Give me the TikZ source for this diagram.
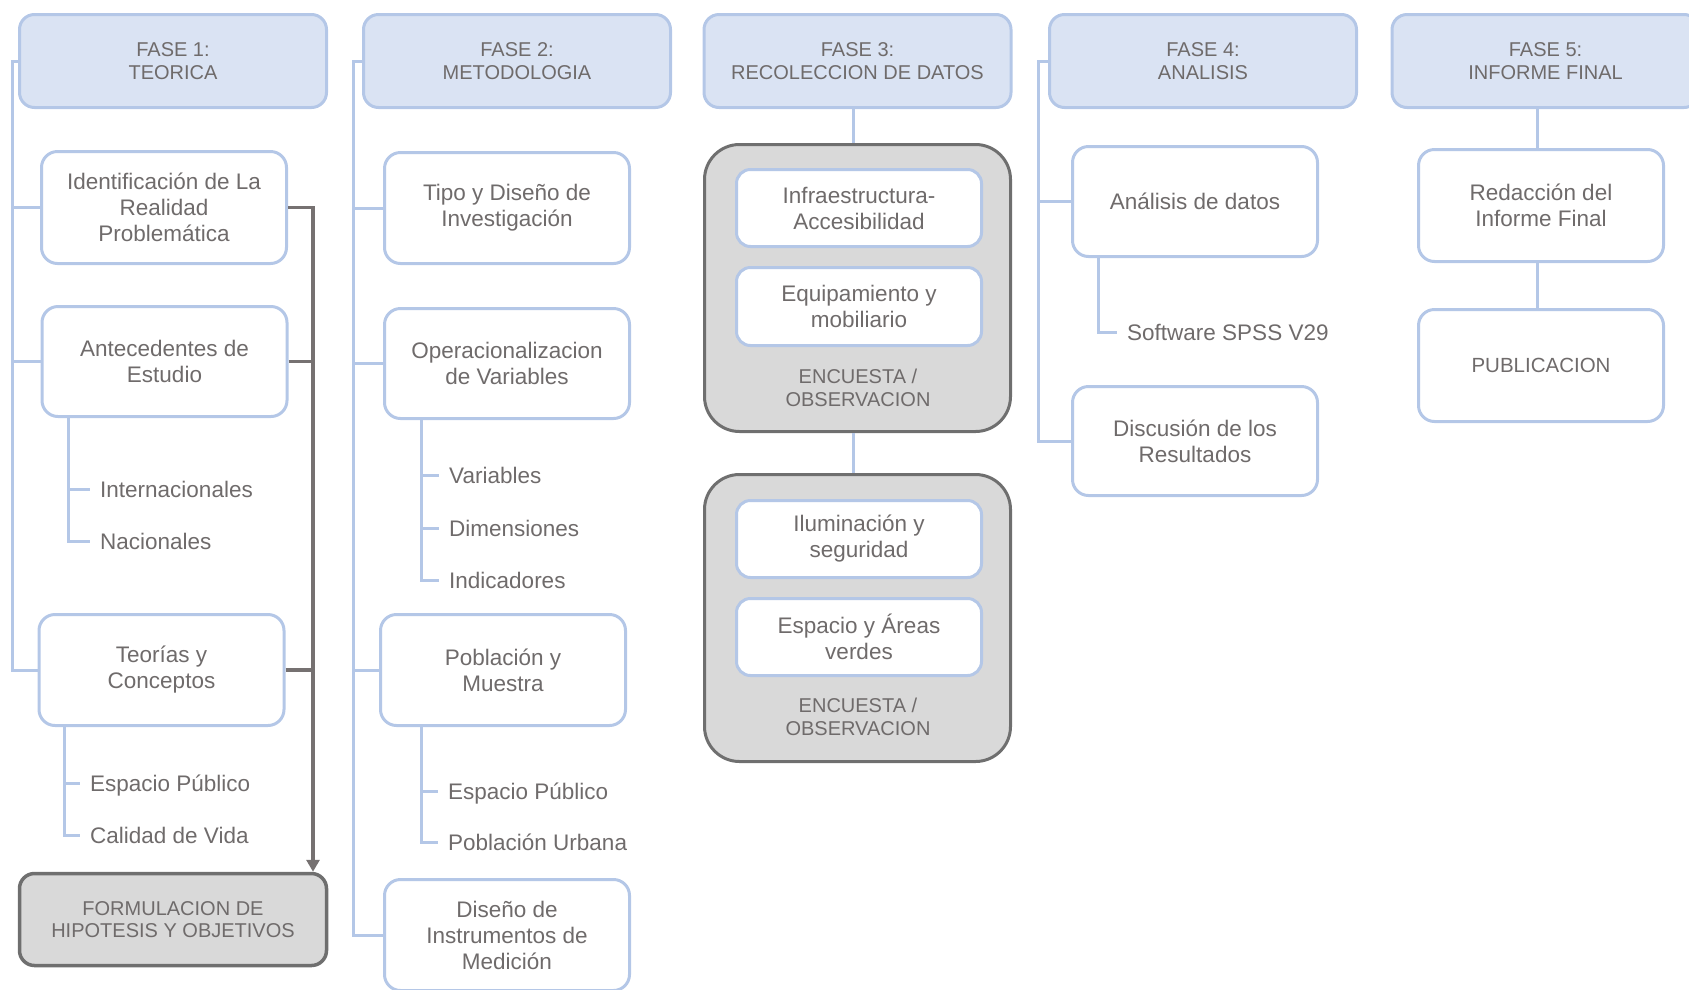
\documentclass[tikz,border=0pt]{standalone}
\usepackage{fontspec}
\setmainfont{Liberation Sans}
\usetikzlibrary{arrows.meta}
\definecolor{lb}{HTML}{B4C7E7}
\definecolor{hf}{HTML}{DAE3F3}
\definecolor{tx}{HTML}{6F6B6B}
\definecolor{gf}{HTML}{D9D9D9}
\definecolor{gb}{HTML}{6F6F6F}
\definecolor{dk}{HTML}{767171}
\begin{document}
\begin{tikzpicture}[x=1pt,y=-1pt,
  hdr/.style={draw=lb, fill=hf, line width=3pt, rounded corners=15pt, minimum width=307pt, minimum height=93pt, align=center, text=tx, font=\fontsize{20}{23}\selectfont, inner sep=0pt},
  box/.style={draw=lb, fill=white, line width=3pt, rounded corners=16pt, minimum width=245pt, align=center, text=tx, font=\fontsize{22.5}{26}\selectfont, inner sep=0pt},
  ibox/.style={draw=lb, fill=white, line width=3pt, rounded corners=14pt, minimum width=245pt, align=center, text=tx, font=\fontsize{22.5}{26}\selectfont, inner sep=0pt},
  gbox/.style={draw=gb, fill=gf, line width=3pt, rounded corners=35pt, minimum width=306pt, minimum height=287pt, inner sep=0pt},
  fbox/.style={draw=gb, fill=gf, line width=3.5pt, rounded corners=15pt, minimum width=307pt, minimum height=92pt, align=center, text=tx, font=\fontsize{20}{22.5}\selectfont, inner sep=0pt},
  gtext/.style={align=center, text=tx, font=\fontsize{20}{22.5}\selectfont, inner sep=0pt},
  sub/.style={anchor=west, text=tx, font=\fontsize{22.5}{26}\selectfont, inner xsep=10pt, inner ysep=0pt, text height=16pt, text depth=0pt},
  conn/.style={draw=lb, line width=3pt},
  dkline/.style={draw=dk, line width=3.2pt}
]
\useasboundingbox (0,0) rectangle (1689,989);

% ---------------- Column 1 ----------------
\node[hdr] (h1) at (173,61) {FASE 1:\\TEORICA};
\node[box, minimum height=112pt] (ident) at (164,207.5) {Identificación de La\\Realidad\\Problemática};
\node[box, minimum height=110pt] (antec) at (164.5,361.5) {Antecedentes de\\Estudio};
\node[box, minimum height=111pt] (teorias) at (161.5,670) {Teorías y\\Conceptos};
\node[fbox] (formul) at (173,919.5) {FORMULACION DE\\HIPOTESIS Y OBJETIVOS};
\node[sub] (int) at (90,489) {Internacionales};
\node[sub] (nac) at (90,541) {Nacionales};
\node[sub] (ep1) at (80,783) {Espacio Público};
\node[sub] (cv) at (80,835) {Calidad de Vida};

\coordinate (s1) at (12,0);
\coordinate (t1) at (68,0);
\coordinate (u1) at (64,0);
\coordinate (d1) at (313,0);
\draw[conn] (h1.west) -| (s1 |- teorias.west) -- (teorias.west);
\draw[conn] (s1 |- ident.west) -- (ident.west);
\draw[conn] (s1 |- antec.west) -- (antec.west);
\draw[conn] (t1 |- antec.south) |- (nac.west);
\draw[conn] (t1 |- int.west) -- (int.west);
\draw[conn] (u1 |- teorias.south) |- (cv.west);
\draw[conn] (u1 |- ep1.west) -- (ep1.west);
\draw[dkline, -{Triangle[length=12pt,width=13pt]}] (ident.east) -| (d1 |- formul.north);
\draw[dkline] (antec.east) -- (d1 |- antec.east);
\draw[dkline] (teorias.east) -- (d1 |- teorias.east);

% ---------------- Column 2 ----------------
\node[hdr] (h2) at (517,61) {FASE 2:\\METODOLOGIA};
\node[box, minimum height=111pt] (tipo) at (507,208) {Tipo y Diseño de\\Investigación};
\node[box, minimum height=110pt] (opera) at (507,363.5) {Operacionalizacion\\de Variables};
\node[box, minimum height=111pt] (pobl) at (503,670) {Población y\\Muestra};
\node[box, minimum height=111pt] (diseno) at (507,935) {Diseño de\\Instrumentos de\\Medición};
\node[sub] (var) at (439,475) {Variables};
\node[sub] (dim) at (439,528) {Dimensiones};
\node[sub] (ind) at (439,580) {Indicadores};
\node[sub] (ep2) at (438,791) {Espacio Público};
\node[sub] (pu) at (438,842) {Población Urbana};

\coordinate (s2) at (353,0);
\coordinate (t2) at (421,0);
\draw[conn] (h2.west) -| (s2 |- diseno.west) -- (diseno.west);
\draw[conn] (s2 |- tipo.west) -- (tipo.west);
\draw[conn] (s2 |- opera.west) -- (opera.west);
\draw[conn] (s2 |- pobl.west) -- (pobl.west);
\draw[conn] (t2 |- opera.south) |- (ind.west);
\draw[conn] (t2 |- var.west) -- (var.west);
\draw[conn] (t2 |- dim.west) -- (dim.west);
\draw[conn] (t2 |- pobl.south) |- (pu.west);
\draw[conn] (t2 |- ep2.west) -- (ep2.west);

% ---------------- Column 3 ----------------
\node[hdr] (h3) at (857.5,61) {FASE 3:\\RECOLECCION DE DATOS};
\node[gbox] (g1) at (857.5,288) {};
\node[ibox, minimum height=77pt] (infra) at (859,208) {Infraestructura-\\Accesibilidad};
\node[ibox, minimum height=78pt] (equip) at (859,306.5) {Equipamiento y\\mobiliario};
\node[gtext] (enc1) at (858,388) {ENCUESTA /\\OBSERVACION};
\node[gbox] (g2) at (857.5,618) {};
\node[ibox, minimum height=77pt] (ilum) at (859,539) {Iluminación y\\seguridad};
\node[ibox, minimum height=77pt] (esp) at (859,637) {Espacio y Áreas\\verdes};
\node[gtext] (enc2) at (858,717) {ENCUESTA /\\OBSERVACION};

\coordinate (c3) at (853,0);
\draw[conn] (c3 |- h3.south) -- (c3 |- g1.north);
\draw[conn] (c3 |- g1.south) -- (c3 |- g2.north);

% ---------------- Column 4 ----------------
\node[hdr] (h4) at (1203,61) {FASE 4:\\ANALISIS};
\node[box, minimum height=110pt] (anal) at (1195,201.5) {Análisis de datos};
\node[box, minimum height=109pt] (disc) at (1195,441) {Discusión de los\\Resultados};
\node[sub] (spss) at (1117,332) {Software SPSS V29};

\coordinate (s4) at (1038,0);
\coordinate (t4) at (1098,0);
\draw[conn] (h4.west) -| (s4 |- disc.west) -- (disc.west);
\draw[conn] (s4 |- anal.west) -- (anal.west);
\draw[conn] (t4 |- anal.south) |- (spss.west);

% ---------------- Column 5 ----------------
\node[hdr] (h5) at (1545.5,61) {FASE 5:\\INFORME FINAL};
\node[box, minimum height=112pt] (redac) at (1541,205.5) {Redacción del\\Informe Final};
\node[box, minimum height=112pt, font=\fontsize{20.5}{24}\selectfont] (publ) at (1541,365.5) {PUBLICACION};

\coordinate (c5) at (1537,0);
\draw[conn] (c5 |- h5.south) -- (c5 |- redac.north);
\draw[conn] (c5 |- redac.south) -- (c5 |- publ.north);
\end{tikzpicture}
\end{document}
